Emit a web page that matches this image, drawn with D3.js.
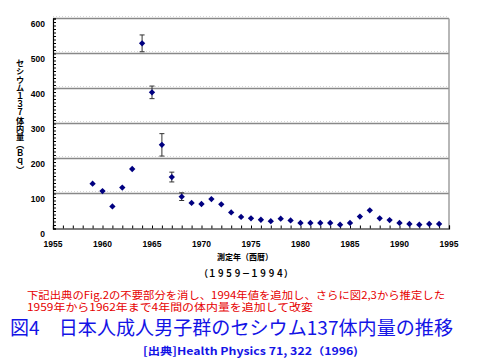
<!DOCTYPE html>
<html><head><meta charset="utf-8">
<script src="https://cdn.jsdelivr.net/npm/d3@7"></script>
<style>body{margin:0;background:#fff}svg{display:block}</style>
</head><body>
<script>
const years = [1959,1960,1961,1962,1963,1964,1965,1966,1967,1968,1969,1970,1971,1972,1973,1974,1975,1976,1977,1978,1979,1980,1981,1982,1983,1984,1985,1986,1987,1988,1989,1990,1991,1992,1993,1994];
const values = [128,107,63,117,170,529,389,239,147,91,73,70,84,69,46,33,29,25,21,28,23,16,16,16,16,11,16,34,52,29,24,16,13,11,13,13];
const errYears = [1964,1965,1966,1967,1968];
const errValues = [24,18,32,14,11];
const xTicks = [1955,1960,1965,1970,1975,1980,1985,1990,1995];
const yTicks = [0,100,200,300,400,500,600];
const yTitle = "セシウム１３７体内量（Ｂｑ）";
const xTitle = "測定年（西暦）";
const period = "（１９５９－１９９４）";
const note1 = "下記出典のFig.2の不要部分を消し、1994年値を追加し、さらに図2,3から推定した";
const note2 = "1959年から1962年まで4年間の体内量を追加して改変";
const title = "図4　日本人成人男子群のセシウム137体内量の推移";
const source = "[出典]Health Physics 71, 322（1996)";

const W = 480, H = 361;
const svg = d3.select("body").append("svg").attr("width", W).attr("height", H);
const x = d3.scaleLinear().domain([1955,1995]).range([53,449]);
const y = d3.scaleLinear().domain([0,600]).range([228.5,18.5]);
const jp = "'Noto Sans CJK JP','Noto Sans',sans-serif";
const lat = "'Liberation Sans',Arial,sans-serif";

// gridlines
const grid = svg.append("g");
yTicks.filter(d => d > 0).forEach(d => {
  grid.append("line").attr("x1", x(1955)).attr("x2", x(1995)).attr("y1", y(d) - 2).attr("y2", y(d) - 2)
    .attr("stroke", "#ccc").attr("stroke-width", 0.8).attr("stroke-dasharray", "1,2");
  grid.append("line").attr("x1", x(1955)).attr("x2", x(1995)).attr("y1", y(d)).attr("y2", y(d))
    .attr("stroke", "#888").attr("stroke-width", 1.6);
});
grid.append("line").attr("x1", x(1995)).attr("x2", x(1995)).attr("y1", y(600)).attr("y2", y(0))
  .attr("stroke", "#999").attr("stroke-width", 1.4);

// axes
const xAxis = d3.axisBottom(x).tickValues(d3.range(1955,1996,1)).tickSize(-3).tickFormat("");
svg.append("g").attr("transform", `translate(0,${y(0)})`).call(xAxis)
  .call(g => g.select(".domain").attr("stroke", "#000").attr("stroke-width", 1.2))
  .call(g => g.selectAll(".tick line").attr("stroke", "#000"));
const yAxis = d3.axisLeft(y).tickValues(d3.range(0,601,10)).tickSize(-3).tickFormat("");
svg.append("g").attr("transform", `translate(${x(1955)},0)`).call(yAxis)
  .call(g => g.select(".domain").attr("stroke", "#000").attr("stroke-width", 1.2))
  .call(g => g.selectAll(".tick line").attr("stroke", "#000"));

// tick labels
svg.append("g").selectAll("text").data(xTicks).join("text")
  .attr("x", d => x(d)).attr("y", 247).attr("text-anchor", "middle")
  .attr("font-family", lat).attr("font-weight", "bold").attr("font-size", 8.5).text(d => d);
svg.append("g").selectAll("text").data(yTicks).join("text")
  .attr("x", 45).attr("y", d => y(d) + 8).attr("text-anchor", "end")
  .attr("font-family", lat).attr("font-weight", "bold").attr("font-size", 8.5).text(d => d);

// error bars
const err = svg.append("g").attr("stroke", "#333").attr("stroke-width", 1);
errYears.forEach((yr, i) => {
  const v = values[years.indexOf(yr)], e = errValues[i];
  err.append("line").attr("x1", x(yr)).attr("x2", x(yr)).attr("y1", y(v - e)).attr("y2", y(v + e));
  err.append("line").attr("x1", x(yr) - 2.5).attr("x2", x(yr) + 2.5).attr("y1", y(v - e)).attr("y2", y(v - e));
  err.append("line").attr("x1", x(yr) - 2.5).attr("x2", x(yr) + 2.5).attr("y1", y(v + e)).attr("y2", y(v + e));
});

// markers
const sym = d3.symbol().type(d3.symbolSquare).size(20);
svg.append("g").selectAll("path").data(years).join("path")
  .attr("d", sym).attr("fill", "#000080")
  .attr("transform", (d, i) => `translate(${x(d)},${y(values[i])}) rotate(45)`);

// y axis title: vertical writing
svg.append("text").attr("x", 20).attr("y", 59)
  .attr("style", "writing-mode: vertical-rl; text-orientation: upright;")
  .attr("font-family", jp).attr("font-weight", "bold").attr("font-size", 8.2)
  .text(yTitle);

svg.append("text").attr("x", 245).attr("y", 260).attr("text-anchor", "middle")
  .attr("font-family", jp).attr("font-weight", "bold").attr("font-size", 8.5)
  .attr("textLength", 56).attr("lengthAdjust", "spacingAndGlyphs").text(xTitle);
svg.append("text").attr("x", 246).attr("y", 277).attr("text-anchor", "middle")
  .attr("font-family", jp).attr("font-weight", "bold").attr("font-size", 9.5)
  .attr("textLength", 93).attr("lengthAdjust", "spacingAndGlyphs").text(period);

// notes
svg.append("text").attr("x", 27).attr("y", 298.5).attr("fill", "#e60000")
  .attr("font-family", jp).attr("font-size", 10.5)
  .attr("textLength", 418).attr("lengthAdjust", "spacingAndGlyphs").text(note1);
svg.append("text").attr("x", 27).attr("y", 310.5).attr("fill", "#e60000")
  .attr("font-family", jp).attr("font-size", 10.5)
  .attr("textLength", 286).attr("lengthAdjust", "spacingAndGlyphs").text(note2);
svg.append("text").attr("x", 10).attr("y", 335).attr("fill", "#1414e6")
  .attr("font-family", jp).attr("font-size", 19)
  .attr("textLength", 443).attr("lengthAdjust", "spacingAndGlyphs").text(title);
svg.append("text").attr("x", 143).attr("y", 354.5).attr("fill", "#1414e6")
  .attr("font-family", jp).attr("font-weight", "bold").attr("font-size", 10.5)
  .attr("textLength", 215).attr("lengthAdjust", "spacingAndGlyphs").text(source);
</script>
</body></html>
